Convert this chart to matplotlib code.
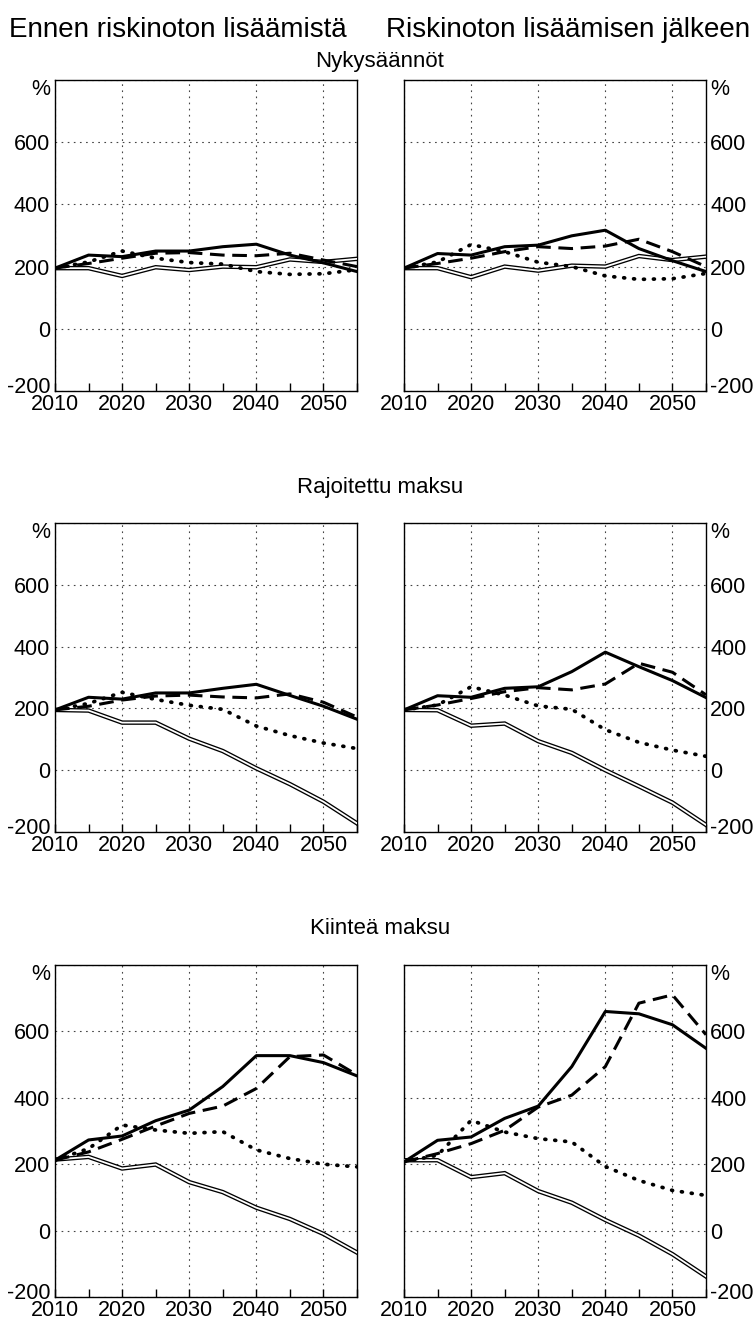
import numpy as np
import matplotlib
matplotlib.use("Agg")
import matplotlib.pyplot as plt
import matplotlib.transforms as mtransforms

plt.rcParams['font.family'] = ['Liberation Sans', 'DejaVu Sans']

years = [2010, 2015, 2020, 2025, 2030, 2035, 2040, 2045, 2050, 2055]

col_titles = ["Ennen riskinoton lisäämistä", "Riskinoton lisäämisen jälkeen"]
row_titles = ["Nykysäännöt", "Rajoitettu maksu", "Kiinteä maksu"]

# each panel: solid, dashed, dotted, double line
nyk_ennen_solid = [195, 237, 232, 250, 250, 264, 272, 237, 212, 184]
nyk_ennen_dash = [195, 210, 227, 243, 245, 237, 235, 243, 221, 200]
nyk_ennen_dot = [195, 215, 250, 227, 213, 208, 184, 175, 177, 190]
nyk_ennen_double = [195, 195, 170, 198, 189, 200, 198, 223, 215, 225]

nyk_jalk_solid = [195, 242, 237, 264, 269, 299, 317, 258, 219, 184]
nyk_jalk_dash = [195, 210, 227, 248, 264, 258, 266, 288, 248, 200]
nyk_jalk_dot = [195, 215, 271, 248, 214, 200, 170, 159, 161, 178]
nyk_jalk_double = [195, 195, 166, 200, 187, 203, 200, 234, 221, 232]

raj_ennen_solid = [195, 236, 230, 250, 250, 265, 278, 242, 207, 165]
raj_ennen_dash = [195, 207, 227, 240, 243, 237, 234, 247, 220, 172]
raj_ennen_dot = [195, 216, 252, 229, 210, 197, 143, 112, 88, 70]
raj_ennen_double = [195, 193, 154, 154, 102, 62, 6, -45, -102, -172]

raj_jalk_solid = [195, 241, 236, 265, 270, 319, 382, 335, 290, 235]
raj_jalk_dash = [195, 211, 232, 254, 267, 260, 279, 346, 317, 244]
raj_jalk_dot = [195, 211, 270, 243, 208, 197, 131, 90, 65, 45]
raj_jalk_double = [195, 194, 144, 151, 94, 56, 0, -52, -105, -177]

kii_ennen_solid = [212, 273, 285, 331, 363, 434, 527, 527, 506, 466]
kii_ennen_dash = [212, 237, 275, 315, 353, 375, 428, 524, 529, 469]
kii_ennen_dot = [212, 247, 318, 303, 293, 298, 243, 217, 200, 192]
kii_ennen_double = [214, 222, 187, 199, 146, 116, 69, 35, -10, -66]

kii_jalk_solid = [207, 272, 282, 338, 375, 494, 660, 653, 620, 549]
kii_jalk_dash = [207, 232, 262, 302, 372, 408, 494, 685, 710, 590]
kii_jalk_dot = [207, 227, 332, 297, 277, 267, 193, 151, 121, 106]
kii_jalk_double = [212, 212, 161, 173, 119, 84, 32, -15, -71, -138]

panels = [
    [(nyk_ennen_solid, nyk_ennen_dash, nyk_ennen_dot, nyk_ennen_double),
     (nyk_jalk_solid, nyk_jalk_dash, nyk_jalk_dot, nyk_jalk_double)],
    [(raj_ennen_solid, raj_ennen_dash, raj_ennen_dot, raj_ennen_double),
     (raj_jalk_solid, raj_jalk_dash, raj_jalk_dot, raj_jalk_double)],
    [(kii_ennen_solid, kii_ennen_dash, kii_ennen_dot, kii_ennen_double),
     (kii_jalk_solid, kii_jalk_dash, kii_jalk_dot, kii_jalk_double)],
]

ytick_vals = [-200, 0, 200, 400, 600, 800]
ytick_labels = ["-200", "0", "200", "400", "600", "%"]

fig = plt.figure(figsize=(7.54, 13.28), dpi=100)

W, H = 754.0, 1328.0
col_x = [55, 404]
col_w = 302
row_y = [(80, 391), (523, 832), (965, 1297)]

for r in range(3):
    top, bot = row_y[r]
    for c in range(2):
        ax = fig.add_axes([col_x[c] / W, 1 - bot / H, col_w / W, (bot - top) / H])
        solid, dash, dot, double = panels[r][c]
        ax.plot(years, double, color='black', lw=3.2, solid_joinstyle='miter', zorder=3)
        ax.plot(years, double, color='white', lw=1.3, solid_joinstyle='miter', zorder=4)
        ax.plot(years, dot, color='black', lw=2.7, linestyle=(0, (0.25, 2.4)),
                dash_capstyle='round', zorder=5)
        ax.plot(years, dash, color='black', lw=2.2, linestyle=(0, (4.8, 2.5)), zorder=6)
        ax.plot(years, solid, color='black', lw=2.2, zorder=7)

        ax.set_xlim(2010, 2055)
        ax.set_ylim(-200, 800)
        ax.set_xticks([2010, 2020, 2030, 2040, 2050])
        ax.set_xticks(years, minor=True)
        ax.set_yticks(ytick_vals)
        ax.set_yticklabels(ytick_labels)
        ax.grid(True, which='major', color='#444444', lw=0.8, linestyle=(0, (1.5, 4)))
        ax.tick_params(axis='x', which='both', direction='in', length=6, width=1,
                       top=False, labelsize=15.5, pad=2)
        ax.tick_params(axis='y', length=0, labelsize=15.5, pad=3.5)
        if c == 1:
            ax.yaxis.tick_right()
            ax.tick_params(axis='y', length=0, pad=3)
        for s in ax.spines.values():
            s.set_linewidth(1.0)

        # pull the end labels (-200 and %) inside the axes height
        if c == 0:
            labs = [t.label1 for t in ax.yaxis.get_major_ticks()]
        else:
            labs = [t.label2 for t in ax.yaxis.get_major_ticks()]
        up = mtransforms.ScaledTranslation(0, 4.5 / 72, fig.dpi_scale_trans)
        down = mtransforms.ScaledTranslation(0, -5 / 72, fig.dpi_scale_trans)
        labs[0].set_transform(labs[0].get_transform() + up)
        labs[-1].set_transform(labs[-1].get_transform() + down)

fig.text(178 / W, 1 - 30 / H, col_titles[0], ha='center', va='center', fontsize=20)
fig.text(568 / W, 1 - 30 / H, col_titles[1], ha='center', va='center', fontsize=20)
row_title_y = [62, 487, 929]
for r in range(3):
    fig.text(380 / W, 1 - row_title_y[r] / H, row_titles[r], ha='center', va='center',
             fontsize=16)

fig.savefig("out.png", dpi=100)
